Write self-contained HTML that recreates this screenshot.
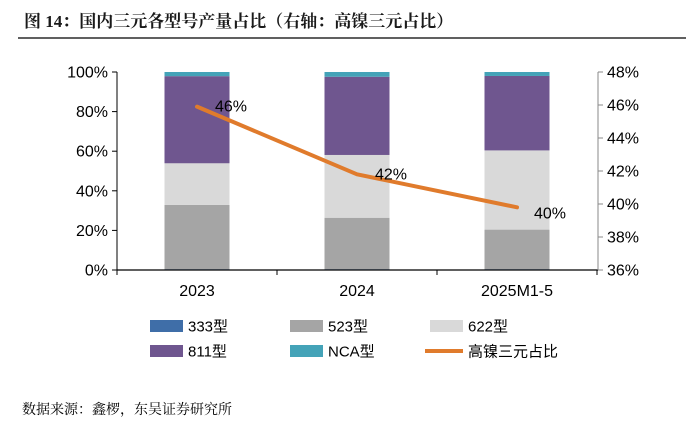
<!DOCTYPE html>
<html><head><meta charset="utf-8"><style>
body{margin:0;background:#fff;width:700px;height:429px;overflow:hidden;font-family:"Liberation Sans","Noto Sans CJK SC",sans-serif}
</style></head><body>
<svg width="700" height="429" xmlns="http://www.w3.org/2000/svg">
<text x="24" y="27" font-size="17" font-weight="bold" font-family="'Liberation Serif','Noto Serif CJK SC',serif" fill="#1a1a1a">图 14：国内三元各型号产量占比（右轴：高镍三元占比）</text>
<line x1="18" y1="38" x2="686" y2="38" stroke="#000" stroke-width="1.2"/>
<g id="plot"></g>
<g id="legend" font-size="15" fill="#000"></g>
<text x="22" y="414" font-size="14" font-family="'Liberation Serif','Noto Serif CJK SC',serif" fill="#000">数据来源：鑫椤，东吴证券研究所</text>
</svg>
<script>
const categories=["2023","2024","2025M1-5"];
const s333=[0.4,0.4,0.4];
const s523=[32.5,26,20];
const s622=[21,31.7,40];
const s811=[44,39.5,37.6];
const sNCA=[2.1,2.4,2];
const highNi=[45.9,41.8,39.8];
const highNiLabels=["46%","42%","40%"];
const leftTicks=[0,20,40,60,80,100];
const rightTicks=[36,38,40,42,44,46,48];
const NS="http://www.w3.org/2000/svg";
const X0=117,X1=597,Y0=270,Y1=72;
const band=(X1-X0)/categories.length;
const xc=i=>X0+band*(i+0.5);
const yL=v=>Y0-(v/100)*(Y0-Y1);
const yR=v=>Y0-((v-36)/12)*(Y0-Y1);
const plot=document.getElementById('plot');
function mk(tag,a,parent){const e=document.createElementNS(NS,tag);for(const k in a)e.setAttribute(k,a[k]);(parent||plot).appendChild(e);return e;}
const series=[["333",s333,"#3f6ea8"],["523",s523,"#a5a5a5"],["622",s622,"#d9d9d9"],["811",s811,"#6f568f"],["nca",sNCA,"#44a3b8"]];
categories.forEach((c,i)=>{let acc=0;series.forEach(([n,arr,col])=>{const v=arr[i];
const r=mk('rect',{x:xc(i)-32.5,y:yL(acc+v),width:65,height:yL(acc)-yL(acc+v),fill:col});


acc+=v;});
const t=mk('text',{x:xc(i),y:296,'font-size':16,'text-anchor':'middle',fill:'#000'});t.textContent=c;


});
mk('line',{x1:X0,y1:Y0,x2:X1+1,y2:Y0,stroke:'#000','stroke-width':1.2});
mk('line',{x1:X0,y1:Y1,x2:X0,y2:Y0,stroke:'#000','stroke-width':1});
mk('line',{x1:X1+1,y1:Y1,x2:X1+1,y2:Y0,stroke:'#888','stroke-width':1});
for(let i=0;i<=3;i++)mk('line',{x1:X0+band*i,y1:Y0,x2:X0+band*i,y2:Y0+5,stroke:'#000'});
leftTicks.forEach(v=>{mk('line',{x1:X0-5,y1:yL(v),x2:X0,y2:yL(v),stroke:'#000'});
const t=mk('text',{x:X0-9,y:yL(v)+5.5,'font-size':16,'text-anchor':'end',fill:'#000'});t.textContent=v+'%';

});
rightTicks.forEach(v=>{mk('line',{x1:X1+1,y1:yR(v),x2:X1+6,y2:yR(v),stroke:'#888'});
const t=mk('text',{x:X1+10,y:yR(v)+5.5,'font-size':16,fill:'#000'});t.textContent=v+'%';

});
const pl=mk('polyline',{points:highNi.map((v,i)=>xc(i)+','+yR(v)).join(' '),fill:'none',stroke:'#e07b2c','stroke-width':4,'stroke-linejoin':'round','stroke-linecap':'round'});


highNi.forEach((v,i)=>{const t=mk('text',{x:xc(i)+(i==2?17:18),y:yR(v)+(i==2?11:5),'font-size':16,fill:'#000'});t.textContent=highNiLabels[i];

});
const lg=document.getElementById('legend');
const items=[["333型","#3f6ea8",150,326,0],["523型","#a5a5a5",290,326,0],["622型","#d9d9d9",430,326,0],["811型","#6f568f",150,351,0],["NCA型","#44a3b8",290,351,0],["高镍三元占比","#e07b2c",430,351,1]];
items.forEach(([n,c,x,y,line])=>{
const g=mk('g',{},lg);


if(line)mk('line',{x1:x-5,y1:y,x2:x+33,y2:y,stroke:c,'stroke-width':4},g);
else mk('rect',{x:x,y:y-6,width:33,height:12,fill:c},g);
const t=mk('text',{x:x+38,y:y+5.5,'font-size':15},g);t.textContent=n;});
</script>
</body></html>
